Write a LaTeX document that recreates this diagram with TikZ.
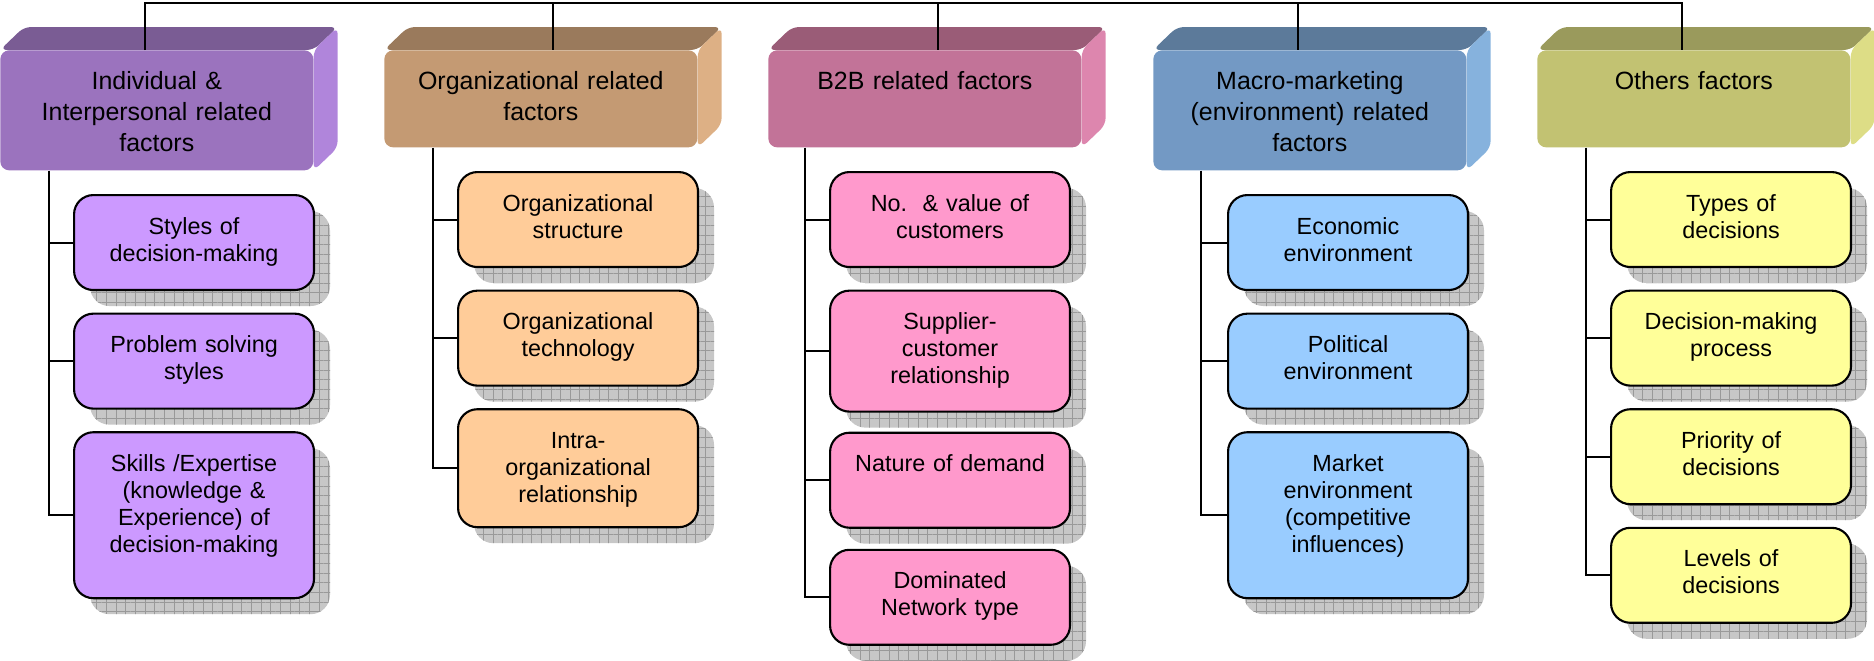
\documentclass[tikz,border=0pt]{standalone}
\usepackage{fontspec}
\setmainfont{Liberation Sans}
\usepackage{xcolor}
\usetikzlibrary{positioning,calc,backgrounds,shadows,patterns.meta}
\definecolor{indfront}{HTML}{9B73BE}
\definecolor{indtop}{HTML}{7A5C94}
\definecolor{indside}{HTML}{B085DB}
\definecolor{indsub}{HTML}{CC99FF}
\definecolor{orgfront}{HTML}{C49A73}
\definecolor{orgtop}{HTML}{9A7A5C}
\definecolor{orgside}{HTML}{DDB085}
\definecolor{orgsub}{HTML}{FFCC99}
\definecolor{btbfront}{HTML}{C27398}
\definecolor{btbtop}{HTML}{9A5C77}
\definecolor{btbside}{HTML}{DD86AE}
\definecolor{btbsub}{HTML}{FF99CC}
\definecolor{macfront}{HTML}{7399C4}
\definecolor{mactop}{HTML}{5C7A9A}
\definecolor{macside}{HTML}{86B2DD}
\definecolor{macsub}{HTML}{99CCFF}
\definecolor{othfront}{HTML}{C2C272}
\definecolor{othtop}{HTML}{9A9A5C}
\definecolor{othside}{HTML}{DDDD86}
\definecolor{othsub}{HTML}{FFFF99}
\tikzset{
    head/.style={fill=#1, rounded corners=5pt, anchor=north west,
                 minimum width=6.26cm, text width=6cm, align=center,
                 inner xsep=0pt, inner ysep=0pt,
                 text height=0.78cm, text depth=1.16cm,
                 font=\fontsize{14.2}{17.6}\selectfont},
    tallhead/.style={text depth=1.62cm},
    face/.style={fill=#1, rounded corners=4pt},
    sub/.style={draw, line width=1.2pt, fill=#1, rounded corners=11pt,
                minimum width=4.8cm, text width=4.4cm, align=center,
                inner xsep=0pt, inner ysep=0pt,
                text height=0.78cm, text depth=1.12cm,
                font=\fontsize{13.3}{15.4}\selectfont,
                general shadow={shadow xshift=0.32cm, shadow yshift=-0.32cm,
                                fill=black!22},
                general shadow={shadow xshift=0.32cm, shadow yshift=-0.32cm,
                                pattern={Hatch[distance=5.5pt, line width=0.35pt]},
                                pattern color=black!40}},
}
\begin{document}
\begin{tikzpicture}[x=0.02cm, y=-0.02cm,
    link/.style={line width=1.1pt, black}]
    \useasboundingbox (0,0) rectangle (1874,660);
    % headers
    \node[head=indfront, tallhead] (hd1) at (0,50) {Individual \&\\Interpersonal related\\factors};
    \node[head=orgfront] (hd2) at (384,50) {Organizational related\\factors};
    \node[head=btbfront] (hd3) at (768,50) {B2B related factors};
    \node[head=macfront, tallhead] (hd4) at (1153,50) {Macro-marketing\\(environment) related\\factors};
    \node[head=othfront] (hd5) at (1537,50) {Others factors};
    \begin{scope}[on background layer]
        \foreach \i/\col in {1/ind,2/org,3/btb,4/mac,5/oth}{
            \fill[face=\col top] (hd\i.north west) -- ++(24,-23)
                -- ([shift={(24,-23)}]hd\i.north east) -- (hd\i.north east) -- cycle;
            \fill[face=\col side] (hd\i.north east) -- ++(24,-23)
                -- ([shift={(24,-23)}]hd\i.south east) -- (hd\i.south east) -- cycle;
        }
    \end{scope}

    % sub factors
    \node[sub=indsub, anchor=north west] (c11) at (73,194) {Styles of\\decision-making};
    \node[sub=indsub, below=0.43cm of c11] (c12) {Problem solving\\styles};
    \node[sub=indsub, below=0.43cm of c12, text depth=2.54cm] (c13) {Skills /Expertise\\(knowledge \&\\Experience) of\\decision-making};

    \node[sub=orgsub, anchor=north west] (c21) at (457,171) {Organizational\\structure};
    \node[sub=orgsub, below=0.43cm of c21] (c22) {Organizational\\technology};
    \node[sub=orgsub, below=0.43cm of c22, text depth=1.58cm] (c23) {Intra-\\organizational\\relationship};

    \node[sub=btbsub, anchor=north west] (c31) at (829,171) {No.~~\& value of\\customers};
    \node[sub=btbsub, below=0.43cm of c31, text depth=1.64cm] (c32) {Supplier-\\customer\\relationship};
    \node[sub=btbsub, below=0.38cm of c32] (c33) {Nature of demand};
    \node[sub=btbsub, below=0.40cm of c33] (c34) {Dominated\\Network type};

    \node[sub=macsub, anchor=north west] (c41) at (1227,194) {Economic\\environment};
    \node[sub=macsub, below=0.43cm of c41] (c42) {Political\\environment};
    \node[sub=macsub, below=0.43cm of c42, text depth=2.54cm] (c43) {Market\\environment\\(competitive\\influences)};

    \node[sub=othsub, anchor=north west] (c51) at (1610,171) {Types of\\decisions};
    \node[sub=othsub, below=0.43cm of c51] (c52) {Decision-making\\process};
    \node[sub=othsub, below=0.43cm of c52] (c53) {Priority of\\decisions};
    \node[sub=othsub, below=0.43cm of c53] (c54) {Levels of\\decisions};

    % top bus
    \coordinate (t1) at (145,3);
    \coordinate (t2) at (553,3);
    \coordinate (t3) at (938,3);
    \coordinate (t4) at (1298,3);
    \coordinate (t5) at (1682,3);
    \draw[link] (t1 |- hd1.north) -- (t1) -- (t5) -- (t5 |- hd5.north);
    \foreach \i in {2,3,4}
        \draw[link] (t\i) -- (t\i |- hd\i.north);

    % branches
    \coordinate (b1) at ([xshift=0.98cm]hd1.south west);
    \coordinate (b2) at ([xshift=0.98cm]hd2.south west);
    \coordinate (b3) at ([xshift=0.74cm]hd3.south west);
    \coordinate (b4) at ([xshift=0.96cm]hd4.south west);
    \coordinate (b5) at ([xshift=0.98cm]hd5.south west);
    \draw[link] (b1) |- (c13.west);
    \draw[link] (b1 |- c11.west) -- (c11.west);
    \draw[link] (b1 |- c12.west) -- (c12.west);
    \draw[link] (b2) |- (c23.west);
    \draw[link] (b2 |- c21.west) -- (c21.west);
    \draw[link] (b2 |- c22.west) -- (c22.west);
    \draw[link] (b3) |- (c34.west);
    \draw[link] (b3 |- c31.west) -- (c31.west);
    \draw[link] (b3 |- c32.west) -- (c32.west);
    \draw[link] (b3 |- c33.west) -- (c33.west);
    \draw[link] (b4) |- (c43.west);
    \draw[link] (b4 |- c41.west) -- (c41.west);
    \draw[link] (b4 |- c42.west) -- (c42.west);
    \draw[link] (b5) |- (c54.west);
    \draw[link] (b5 |- c51.west) -- (c51.west);
    \draw[link] (b5 |- c52.west) -- (c52.west);
    \draw[link] (b5 |- c53.west) -- (c53.west);
\end{tikzpicture}
\end{document}
